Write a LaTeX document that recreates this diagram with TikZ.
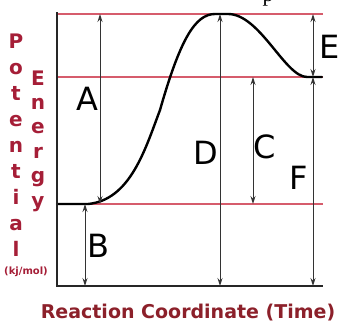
\documentclass[tikz,border=0pt]{standalone}
\usepackage{fontspec}
\setmainfont{DejaVu Sans}
\newfontfamily\fragfont{Liberation Serif}
\usepackage{xcolor}
\usetikzlibrary{arrows.meta}
\definecolor{lvlred}{RGB}{214,92,108}
\definecolor{axred}{RGB}{165,30,55}
\definecolor{capred}{RGB}{140,32,42}

\begin{document}
\begin{tikzpicture}[x=1pt, y=-1pt,
  lvl/.style={draw=lvlred, line width=1.4pt},
  axis/.style={draw=black!85, line width=1.5pt},
  dim/.style={{Stealth[length=8pt,width=5pt]}-{Stealth[length=8pt,width=5pt]}, line width=0.9pt, black!80},
  lbl/.style={font=\fontsize{32}{32}\selectfont, inner sep=0pt},
  ylet/.style={font=\fontsize{20}{20}\selectfont\bfseries, text=axred, anchor=base, inner sep=0pt}
]
\useasboundingbox (0,0) rectangle (339,327);
% energy levels
\draw[lvl] (57,14) -- (323,14);
\draw[lvl] (57,77) -- (323,77);
\draw[lvl] (57,204) -- (323,204);
% reaction path
\draw[line width=2.4pt, line cap=round] (57,204) -- (88,204)
  .. controls (130,200) and (145,150) .. (160,110)
  .. controls (180,40) and (195,14) .. (215,14) -- (228,14)
  .. controls (260,14) and (285,77) .. (307,77) -- (322,77);
% axes
\draw[axis] (57,12) -- (57,286) -- (323,286);
% arrow ends
\coordinate (a1) at (100,14);  \coordinate (a2) at (100,204);
\coordinate (b1) at (85,204);  \coordinate (b2) at (85,286);
\coordinate (c1) at (253,77);  \coordinate (c2) at (253,204);
\coordinate (d1) at (220,14);  \coordinate (d2) at (220,286);
\coordinate (e1) at (313,14);  \coordinate (e2) at (313,77);
\coordinate (f1) at (313,77);  \coordinate (f2) at (313,286);
\draw[dim] (a1) -- (a2);
\draw[dim] (b1) -- (b2);
\draw[dim] (c1) -- (c2);
\draw[dim] (d1) -- (d2);
\draw[dim] (e1) -- (e2);
\draw[dim] (f1) -- (f2);
% labels
\node[lbl] (la) at (87,99) {A};
\node[lbl] (lb) at (98,246) {B};
\node[lbl] (lc) at (265,147) {C};
\node[lbl] (ld) at (206,153) {D};
\node[lbl] (le) at (330,47) {E};
\node[lbl] (lf) at (299,178) {F};
% axis titles
\foreach \ch [count=\i from 0] in {P,o,t,e,n,t,i,a,l}
  \node[ylet] (pot\i) at (16,{48+26*\i}) {\ch};
\foreach \ch [count=\i from 0] in {E,n,e,r,g,y}
  \node[ylet] (en\i) at (38,{85+24.4*\i}) {\ch};
\node[font=\fontsize{10}{10}\selectfont\bfseries, text=axred, inner sep=0pt] (unit) at (26,272) {(kj/mol)};
\node[font=\fontsize{19}{19}\selectfont\bfseries, text=capred, inner sep=0pt] (xlab) at (188,313) {Reaction Coordinate (Time)};
\node[font=\fragfont\fontsize{22}{22}\selectfont, anchor=base, inner sep=0pt] (frag) at (268,1) {p};
\end{tikzpicture}
\end{document}
